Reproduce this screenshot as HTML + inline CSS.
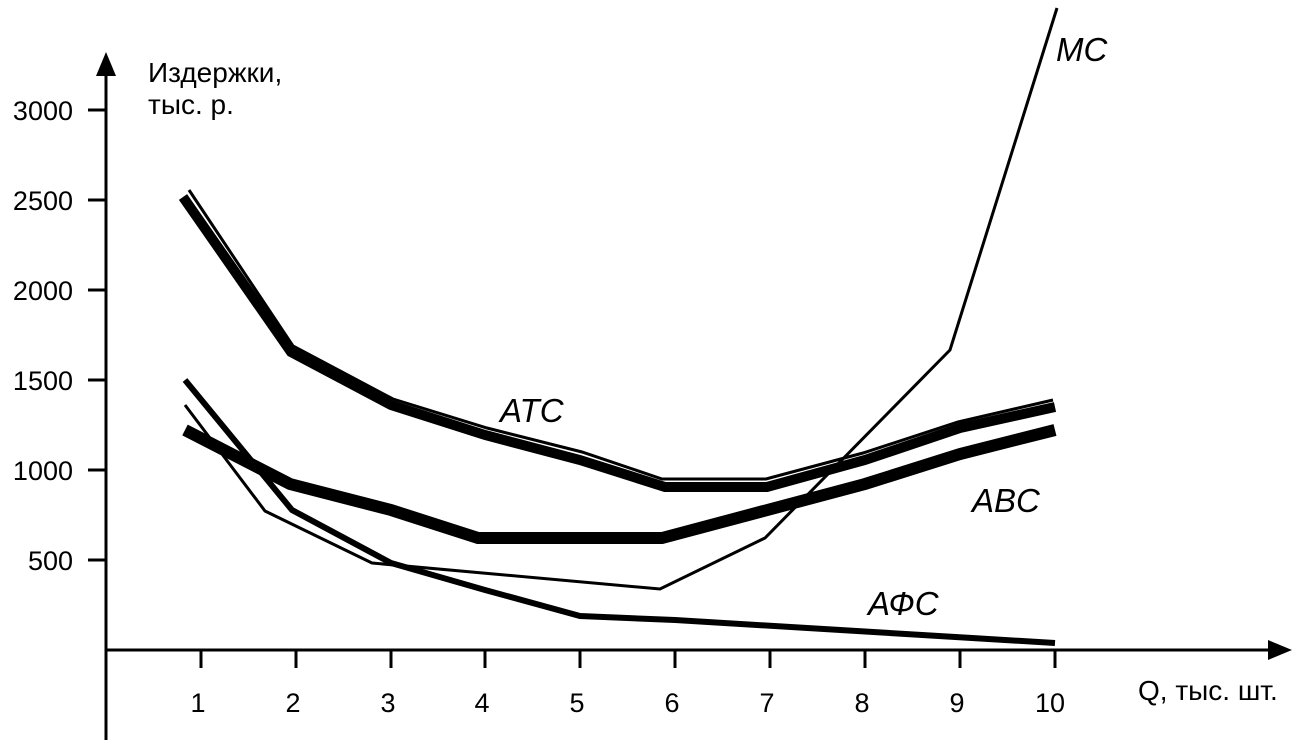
<!DOCTYPE html>
<html><head><meta charset="utf-8"><style>
html,body{margin:0;padding:0;background:#fff;}
svg{display:block}
text{font-family:"Liberation Sans","DejaVu Sans",sans-serif;fill:#000}
</style></head><body>
<svg width="1300" height="751" viewBox="0 0 1300 751" xmlns="http://www.w3.org/2000/svg">
<g stroke="#000" fill="none" stroke-linejoin="miter">
<line x1="106" y1="740" x2="106" y2="70" stroke-width="3"/>
<line x1="106" y1="650" x2="1270" y2="650" stroke-width="3"/>
<g stroke-width="3">
<line x1="201" y1="650" x2="201" y2="668"/><line x1="296" y1="650" x2="296" y2="668"/>
<line x1="391" y1="650" x2="391" y2="668"/><line x1="485" y1="650" x2="485" y2="668"/>
<line x1="580" y1="650" x2="580" y2="668"/><line x1="675" y1="650" x2="675" y2="668"/>
<line x1="770" y1="650" x2="770" y2="668"/><line x1="865" y1="650" x2="865" y2="668"/>
<line x1="960" y1="650" x2="960" y2="668"/><line x1="1055" y1="650" x2="1055" y2="668"/>
<line x1="88" y1="110" x2="106" y2="110"/><line x1="88" y1="200" x2="106" y2="200"/>
<line x1="88" y1="290" x2="106" y2="290"/><line x1="88" y1="380" x2="106" y2="380"/>
<line x1="88" y1="470" x2="106" y2="470"/><line x1="88" y1="560" x2="106" y2="560"/>
</g>
<polyline points="189,190 293,346 393,399 487,428 582,452 662,479 766,479 863,453 958,422 1053,400" stroke-width="3"/>
<polyline points="183,197 291,352 391,405 485,435 580,460 665,487 767,487 865,460 960,428 1055,407" stroke-width="10"/>
<polyline points="185,430 290,484 391,510 478,538 662,538 865,484 960,454 1055,430" stroke-width="12"/>
<polyline points="185,380 292,510 391,563 485,590 580,616 675,620 1055,643" stroke-width="6"/>
<polyline points="185,405 265,511 372,563 660,589 765,538 950,350 1057,8" stroke-width="3"/>
</g>
<polygon points="106,52 96,76 116,76" fill="#000"/>
<polygon points="1292,650 1268,640 1268,660" fill="#000"/>
<g font-size="27" text-anchor="end">
<text x="73" y="120">3000</text><text x="73" y="210">2500</text><text x="73" y="300">2000</text>
<text x="73" y="390">1500</text><text x="73" y="480">1000</text><text x="73" y="570">500</text>
</g>
<g font-size="27" text-anchor="middle">
<text x="198" y="712">1</text><text x="293" y="712">2</text><text x="388" y="712">3</text>
<text x="482" y="712">4</text><text x="577" y="712">5</text><text x="672" y="712">6</text>
<text x="767" y="712">7</text><text x="862" y="712">8</text><text x="957" y="712">9</text>
<text x="1050" y="712">10</text>
</g>
<text x="148" y="82" font-size="28">Издержки,</text>
<text x="148" y="114" font-size="28">тыс. р.</text>
<text x="1138" y="700" font-size="28">Q, тыс. шт.</text>
<g font-size="33" font-style="italic">
<text x="1056" y="61">MC</text>
<text x="500" y="422">ATC</text>
<text x="972" y="512">ABC</text>
<text x="868" y="615">АФС</text>
</g>
</svg>
</body></html>
